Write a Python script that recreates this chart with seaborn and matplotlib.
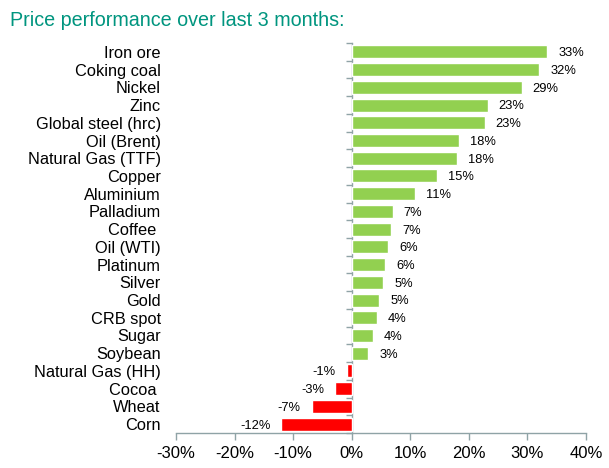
import numpy as np
import pandas as pd
import seaborn as sns
import matplotlib
matplotlib.use("Agg")
import matplotlib.pyplot as plt

# data (percent change over 3 months)
commodities = ['Iron ore', 'Coking coal', 'Nickel', 'Zinc', 'Global steel (hrc)',
               'Oil (Brent)', 'Natural Gas (TTF)', 'Copper', 'Aluminium', 'Palladium',
               'Coffee ', 'Oil (WTI)', 'Platinum', 'Silver', 'Gold', 'CRB spot',
               'Sugar', 'Soybean', 'Natural Gas (HH)', 'Cocoa ', 'Wheat', 'Corn']
change_pct = [33.4, 32.0, 29.0, 23.2, 22.7, 18.3, 18.0, 14.6, 10.8, 7.0,
              6.7, 6.2, 5.7, 5.4, 4.7, 4.3, 3.6, 2.8, -0.8, -2.8, -6.8, -12.0]
x_ticks = [-30, -20, -10, 0, 10, 20, 30, 40]

green = '#92D050'
red = '#FF0000'
axis_grey = '#8FA3A6'

df = pd.DataFrame({'commodity': commodities, 'change': change_pct})
colors = {c: (green if v >= 0 else red) for c, v in zip(commodities, change_pct)}

sns.set_theme(style='white')
plt.rcParams['font.family'] = ['Liberation Sans', 'DejaVu Sans']

fig = plt.figure(figsize=(6.09, 4.68), dpi=100)
ax = fig.add_axes([176 / 609, 1 - 433 / 468, 410 / 609, 390 / 468])

sns.barplot(data=df, x='change', y='commodity', hue='commodity', palette=colors,
            order=commodities, legend=False, width=0.73, saturation=1, ax=ax)

ax.set_xlim(-30, 40)
ax.set_ylim(len(commodities) - 0.5, -0.5)
ax.set_xticks(x_ticks)
ax.set_xticklabels([f'{t}%' for t in x_ticks], fontsize=12)
ax.set_xlabel('')
ax.set_ylabel('')
ax.tick_params(axis='y', length=0, pad=11, labelsize=11.8, labelcolor='black')
ax.tick_params(axis='x', bottom=True, length=5, width=1, color=axis_grey,
               direction='out', pad=4, labelcolor='black')

for side in ['top', 'right', 'left']:
    ax.spines[side].set_visible(False)
ax.spines['bottom'].set_color(axis_grey)
ax.spines['bottom'].set_linewidth(1)

# vertical axis at zero with ticks between categories
zero_axis = ax.secondary_yaxis(30 / 70)
zero_axis.set_yticks(np.arange(-0.5, len(commodities), 1))
zero_axis.set_yticklabels([])
zero_axis.tick_params(length=4, color=axis_grey, width=1)
zero_axis.spines['left'].set_color(axis_grey)
zero_axis.spines['left'].set_linewidth(1)

# value labels
for i, v in enumerate(change_pct):
    ax.annotate(f'{v:.0f}%', xy=(v, i), xytext=(8 if v >= 0 else -8, -1),
                textcoords='offset points', va='center',
                ha='left' if v >= 0 else 'right', fontsize=9.3, color='black')

fig.text(10 / 609, 1 - 20 / 468, 'Price performance over last 3 months:',
         fontsize=14.2, color='#00957F', va='center', ha='left')

fig.savefig('out.png', dpi=100)
